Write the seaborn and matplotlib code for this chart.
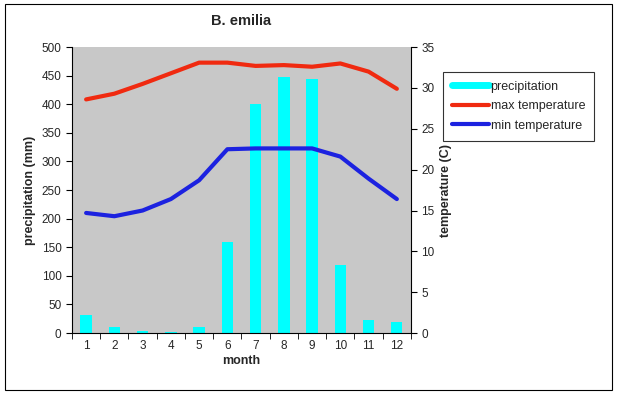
import seaborn as sns
import numpy as np
import pandas as pd
import matplotlib.pyplot as plt
from matplotlib.lines import Line2D
from matplotlib.patches import Rectangle
from matplotlib.ticker import MultipleLocator

months = [1, 2, 3, 4, 5, 6, 7, 8, 9, 10, 11, 12]
precipitation = [31, 11, 4, 1, 11, 160, 400, 447, 445, 119, 23, 19]
max_temp = [28.6, 29.3, 30.5, 31.8, 33.1, 33.1, 32.7, 32.8, 32.6, 33.0, 32.0, 29.9]
min_temp = [14.7, 14.3, 15.0, 16.4, 18.7, 22.5, 22.6, 22.6, 22.6, 21.6, 18.9, 16.4]

df = pd.DataFrame({"month": months, "precipitation": precipitation,
                   "max": max_temp, "min": min_temp})

sns.set_style("white")
plt.rcParams['font.family'] = ['Liberation Sans', 'DejaVu Sans']

fig = plt.figure(figsize=(6.18, 3.96), dpi=100)
ax = fig.add_axes([0.1165, 0.159, 0.5485, 0.722])
ax.set_facecolor("#c8c8c8")

sns.barplot(data=df, x="month", y="precipitation", native_scale=True,
            color="#00ffff", saturation=1, width=0.4, linewidth=0,
            edgecolor="none", ax=ax)

ax2 = ax.twinx()
sns.lineplot(data=df, x="month", y="max", color="#f02a10", linewidth=3, ax=ax2)
sns.lineplot(data=df, x="month", y="min", color="#1c22e0", linewidth=3, ax=ax2)

ax.set_xlim(0.5, 12.5)
ax.set_ylim(0, 500)
ax2.set_ylim(0, 35)
ax.yaxis.set_major_locator(MultipleLocator(50))
ax2.yaxis.set_major_locator(MultipleLocator(5))

ax.set_xticks(months)
ax.set_xticklabels([str(m) for m in months])
ax.set_xticks(np.arange(0.5, 13, 1), minor=True)
ax.tick_params(axis="x", which="major", length=0, labelsize=8.5, pad=5)
ax.tick_params(axis="x", which="minor", length=4, direction="out", color="black", bottom=True)
ax.tick_params(axis="y", length=4, direction="out", left=True, labelsize=8.5, color="black")
ax2.tick_params(axis="y", length=4, direction="out", right=True, labelsize=8.5, color="black")

for a in (ax, ax2):
    for s in a.spines.values():
        s.set_visible(False)
ax.spines["bottom"].set_visible(True)
ax.spines["left"].set_visible(True)
ax2.spines["right"].set_visible(True)
for s in ("bottom", "left"):
    ax.spines[s].set_color("black")
    ax.spines[s].set_linewidth(0.8)
ax2.spines["right"].set_color("black")
ax2.spines["right"].set_linewidth(0.8)

ax.set_xlabel("month", fontsize=9, fontweight="bold", labelpad=2)
ax.set_ylabel("precipitation (mm)", fontsize=9, fontweight="bold", labelpad=4)
ax2.set_ylabel("temperature (C)", fontsize=9, fontweight="bold", labelpad=4)
ax.set_title("B. emilia", fontsize=10.5, fontweight="bold", pad=16)

handles = [Line2D([], [], color="#00ffff", lw=5),
           Line2D([], [], color="#f02a10", lw=3),
           Line2D([], [], color="#1c22e0", lw=3)]
leg = fig.legend(handles, ["precipitation", "max temperature", "min temperature"],
                 loc="upper left", bbox_to_anchor=(0.717, 0.818), borderaxespad=0,
                 fontsize=9, frameon=True, fancybox=False, handlelength=3.0,
                 handletextpad=0.1, borderpad=0.7, labelspacing=0.6)
leg.get_frame().set_edgecolor("black")
leg.get_frame().set_linewidth(0.8)

fig.patches.append(Rectangle((0.008, 0.015), 0.983, 0.975, transform=fig.transFigure,
                             fill=False, edgecolor="black", linewidth=0.8))

fig.savefig("out.png", dpi=100)
